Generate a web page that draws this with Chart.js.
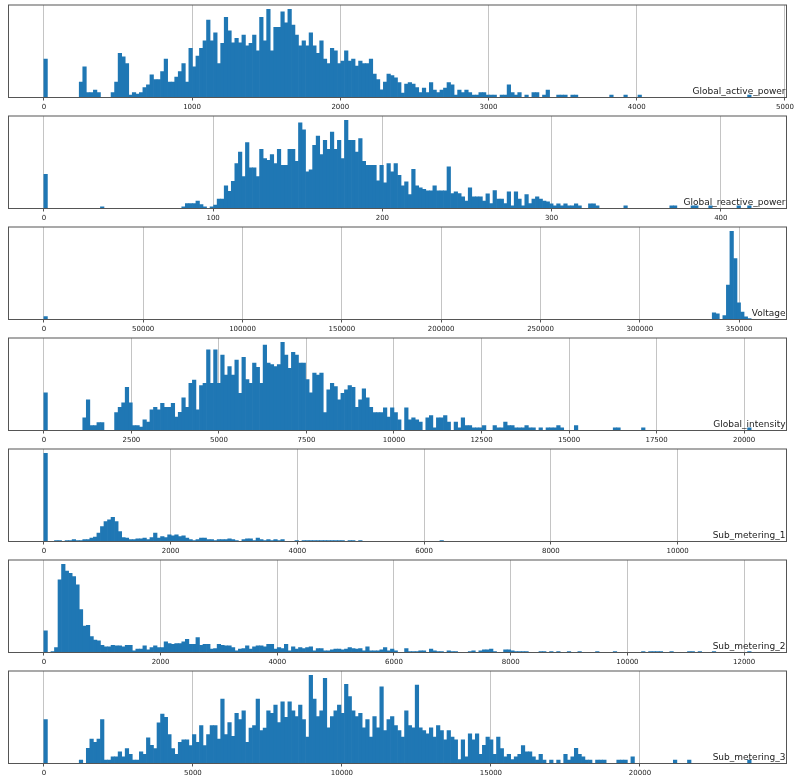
<!DOCTYPE html>
<html>
<head>
<meta charset="utf-8">
<script src="https://cdn.jsdelivr.net/npm/chart.js@4.4.0/dist/chart.umd.min.js"></script>
<style>
  body { margin: 0; background: #fff; }
  .panel { width: 800px; height: 111px; }
  canvas { display: block; }
</style>
</head>
<body>
<div class="panel"><canvas id="h0" width="800" height="111"></canvas></div>
<div class="panel"><canvas id="h1" width="800" height="111"></canvas></div>
<div class="panel"><canvas id="h2" width="800" height="111"></canvas></div>
<div class="panel"><canvas id="h3" width="800" height="111"></canvas></div>
<div class="panel"><canvas id="h4" width="800" height="111"></canvas></div>
<div class="panel"><canvas id="h5" width="800" height="111"></canvas></div>
<div class="panel"><canvas id="h6" width="800" height="111"></canvas></div>
<script>
// histogram counts, 200 bins each
const activeCounts = [
  115,0,0,0,0,0,0,0,0,0,46,92,15,15,22,15,0,0,0,15,
  46,132,122,102,7,15,10,15,30,38,68,54,54,78,115,46,46,61,78,102,
  46,147,92,124,147,170,232,170,194,102,162,240,200,164,177,164,187,155,162,187,
  140,240,170,264,140,210,210,257,224,264,217,187,155,170,155,194,155,132,170,115,
  102,147,140,102,109,140,109,115,94,109,102,102,115,70,54,23,46,70,66,59,
  45,13,40,45,40,30,15,28,15,45,22,15,22,28,45,38,7,22,15,22,
  15,7,7,15,15,7,7,7,0,7,7,38,15,7,15,0,7,0,15,15,
  0,7,22,0,0,7,7,7,0,7,7,0,0,0,0,0,0,0,0,0,
  7,0,0,0,7,0,0,0,7,0,0,0,0,0,0,0,0,0,0,0,
  0,0,0,0,0,0,0,0,0,0,0,0,0,0,0,0,0,0,0,7
];
const reactiveCounts = [
  103,0,0,0,0,0,0,0,0,0,0,0,0,0,0,0,5,0,0,0,
  0,0,0,0,0,0,0,0,0,0,0,0,0,0,0,0,0,0,0,5,
  15,15,15,22,12,5,0,5,10,28,28,68,52,82,135,170,96,198,122,122,
  96,178,150,145,162,135,178,130,130,178,178,142,258,237,110,116,190,218,162,205,
  178,230,178,205,150,265,205,205,170,210,142,130,130,130,83,130,77,135,110,135,
  100,68,80,42,118,68,62,58,53,53,68,53,53,53,125,45,50,45,35,22,
  62,35,35,35,22,44,15,54,28,28,15,50,8,50,28,8,42,15,28,35,
  28,22,20,14,8,14,8,14,8,8,14,8,0,0,14,14,8,0,0,0,
  0,0,0,0,8,0,0,0,0,0,0,0,0,0,0,0,0,8,8,0,
  0,0,0,8,8,0,0,0,8,0,0,0,0,0,0,0,8,0,0,8
];
const voltageCounts = [
  9,0,0,0,0,0,0,0,0,0,0,0,0,0,0,0,0,0,0,0,
  0,0,0,0,0,0,0,0,0,0,0,0,0,0,0,0,0,0,0,0,
  0,0,0,0,0,0,0,0,0,0,0,0,0,0,0,0,0,0,0,0,
  0,0,0,0,0,0,0,0,0,0,0,0,0,0,0,0,0,0,0,0,
  0,0,0,0,0,0,0,0,0,0,0,0,0,0,0,0,0,0,0,0,
  0,0,0,0,0,0,0,0,0,0,0,0,0,0,0,0,0,0,0,0,
  0,0,0,0,0,0,0,0,0,0,0,0,0,0,0,0,0,0,0,0,
  0,0,0,0,0,0,0,0,0,0,0,0,0,0,0,0,0,0,0,0,
  0,0,0,0,0,0,0,0,0,0,0,0,0,0,0,0,0,0,0,0,
  0,0,0,0,0,0,0,0,0,20,17,0,12,103,263,182,50,22,8,3
];
const intensityCounts = [
  113,0,0,0,0,0,0,0,0,0,0,38,92,15,15,24,24,0,0,0,
  54,70,83,130,83,15,15,10,32,25,62,70,62,82,70,70,82,40,55,98,
  70,142,152,62,135,142,243,142,243,142,227,167,192,167,212,112,220,153,142,203,
  190,142,257,203,198,192,198,265,227,187,235,227,203,203,153,113,173,167,173,54,
  122,142,132,92,112,122,135,130,70,92,125,98,70,54,54,54,68,40,68,54,
  32,0,68,32,38,32,25,0,38,45,8,38,38,45,25,0,25,8,38,15,
  15,8,8,8,15,0,0,15,8,8,25,15,15,8,8,8,15,8,8,0,
  8,0,8,8,8,15,8,0,0,0,15,0,0,0,0,0,0,0,0,0,
  0,8,8,0,0,0,0,0,0,8,0,0,0,0,0,0,0,0,0,0,
  0,0,0,0,0,0,0,0,0,0,0,0,0,0,0,0,0,0,0,8
];
const sub1Counts = [
  265,0,0,3,3,0,3,3,6,3,3,6,6,10,13,25,45,60,65,73,
  60,30,12,10,6,6,8,8,10,6,12,25,10,15,12,20,17,20,15,17,
  10,6,3,6,10,10,6,6,3,6,6,6,8,6,3,0,6,8,8,3,
  10,6,3,6,3,6,3,6,0,0,0,3,0,3,3,3,3,3,3,3,
  3,3,3,3,3,0,3,3,0,3,0,0,0,0,0,0,0,0,0,0,
  0,0,0,0,0,0,0,0,0,0,0,0,3,0,0,0,0,0,0,0,
  0,0,0,0,0,0,0,0,0,0,0,0,0,0,0,0,0,0,0,0,
  0,0,0,0,0,0,0,0,0,0,0,0,0,0,0,0,0,0,0,0,
  0,0,0,0,0,0,0,0,0,0,0,0,0,0,0,0,0,0,0,0,
  0,0,0,0,0,0,0,0,0,0,0,0,0,0,0,0,0,0,0,0
];
const sub2Counts = [
  66,0,3,15,220,267,247,240,230,205,130,80,82,48,38,35,22,17,17,22,
  20,20,17,22,22,5,10,10,20,8,15,20,15,15,32,27,25,27,27,32,
  40,25,25,45,22,25,25,10,12,25,22,20,20,15,5,10,12,20,10,17,
  20,20,17,25,25,10,15,12,25,5,17,10,15,12,15,17,5,12,12,5,
  5,8,10,10,8,10,15,12,10,12,5,17,5,5,5,8,15,5,10,5,
  0,0,12,3,3,3,5,5,0,10,5,3,3,0,5,3,3,0,0,0,
  3,5,0,5,8,8,10,3,0,0,8,8,5,3,3,3,3,0,0,0,
  3,3,0,3,0,3,0,0,3,0,0,3,0,0,0,0,3,0,0,0,
  0,3,0,0,0,0,0,0,0,3,0,3,3,3,3,0,0,3,0,0,
  0,0,3,3,0,3,0,0,0,3,0,0,0,0,0,0,0,0,0,3
];
const sub3Counts = [
  133,0,0,0,0,0,0,0,0,0,10,0,46,74,64,74,133,10,10,20,
  20,35,20,45,28,10,10,35,28,78,55,45,123,150,140,88,45,28,64,72,
  72,54,88,64,115,54,88,115,115,74,195,88,124,82,152,133,160,64,107,115,
  195,100,107,160,152,177,124,187,140,187,160,142,177,133,80,267,195,142,160,258,
  108,142,160,177,152,240,203,160,142,152,108,133,80,142,108,232,100,133,142,115,
  100,80,160,115,108,238,108,100,90,108,80,115,100,72,100,80,72,12,72,20,
  90,72,90,28,55,80,72,28,80,45,20,28,12,20,28,54,35,35,20,10,
  28,10,0,10,0,10,0,28,10,20,46,28,20,10,10,0,10,10,10,0,
  0,0,10,10,10,0,20,0,0,0,0,0,0,0,0,0,0,0,10,0,
  0,0,10,0,0,0,0,0,0,0,0,0,0,0,0,0,0,0,0,10
];

// upper edge of each histogram's range (lower edge is 0)
const activeMax = 4772;
const reactiveMax = 417.9;
const voltageMax = 356040;
const intensityMax = 20200;
const sub1Max = 11160;
const sub2Max = 12120;
const sub3Max = 23730;

// tick labels
const activeTicks = [0, 1000, 2000, 3000, 4000, 5000];
const reactiveTicks = [0, 100, 200, 300, 400];
const voltageTicks = [0, 50000, 100000, 150000, 200000, 250000, 300000, 350000];
const intensityTicks = [0, 2500, 5000, 7500, 10000, 12500, 15000, 17500, 20000];
const sub1Ticks = [0, 2000, 4000, 6000, 8000, 10000];
const sub2Ticks = [0, 2000, 4000, 6000, 8000, 10000, 12000];
const sub3Ticks = [0, 5000, 10000, 15000, 20000];

// column name in the lower right corner + frame around the plot area
const cornerTitle = {
  id: 'cornerTitle',
  afterDraw(chart, args, opts) {
    const { ctx, chartArea: a } = chart;
    ctx.save();
    ctx.strokeStyle = '#555';
    ctx.lineWidth = 1;
    ctx.strokeRect(a.left, a.top, a.right - a.left, a.bottom - a.top);
    ctx.font = '9px "DejaVu Sans"';
    ctx.fillStyle = '#222';
    ctx.textAlign = 'right';
    ctx.textBaseline = 'alphabetic';
    ctx.fillText(opts.text, a.right - 1, a.bottom - 3.5);
    ctx.restore();
  }
};

function drawHist(id, title, counts, dataMax, tickValues) {
  const binWidth = dataMax / counts.length;
  const points = counts.map((c, i) => ({ x: (i + 0.5) * binWidth, y: c }));
  new Chart(document.getElementById(id), {
    type: 'bar',
    data: {
      datasets: [{
        data: points,
        backgroundColor: '#1f77b4',
        borderWidth: 0,
        barPercentage: 1,
        categoryPercentage: 1
      }]
    },
    options: {
      responsive: false,
      animation: false,
      layout: { padding: { left: 8.5, right: 13.5, top: 5, bottom: 0 } },
      plugins: {
        legend: { display: false },
        tooltip: { enabled: false },
        cornerTitle: { text: title }
      },
      scales: {
        x: {
          type: 'linear',
          offset: false,
          min: -0.05 * dataMax,
          max: 1.05 * dataMax,
          z: 1,
          afterBuildTicks: s => { s.ticks = tickValues.map(v => ({ value: v })); },
          afterFit: s => { s.height = 13.5; },
          border: { display: false },
          grid: {
            offset: false,
            color: '#c4c4c4',
            lineWidth: 1,
            tickLength: 3,
            tickColor: '#555'
          },
          ticks: {
            autoSkip: false,
            maxRotation: 0,
            padding: 2,
            color: '#222',
            font: { family: 'DejaVu Sans', size: 7 },
            callback: v => String(v)
          }
        },
        y: {
          display: false,
          min: 0,
          max: 1.05 * Math.max(...counts)
        }
      }
    },
    plugins: [cornerTitle]
  });
}

drawHist('h0', 'Global_active_power', activeCounts, activeMax, activeTicks);
drawHist('h1', 'Global_reactive_power', reactiveCounts, reactiveMax, reactiveTicks);
drawHist('h2', 'Voltage', voltageCounts, voltageMax, voltageTicks);
drawHist('h3', 'Global_intensity', intensityCounts, intensityMax, intensityTicks);
drawHist('h4', 'Sub_metering_1', sub1Counts, sub1Max, sub1Ticks);
drawHist('h5', 'Sub_metering_2', sub2Counts, sub2Max, sub2Ticks);
drawHist('h6', 'Sub_metering_3', sub3Counts, sub3Max, sub3Ticks);
</script>
</body>
</html>
